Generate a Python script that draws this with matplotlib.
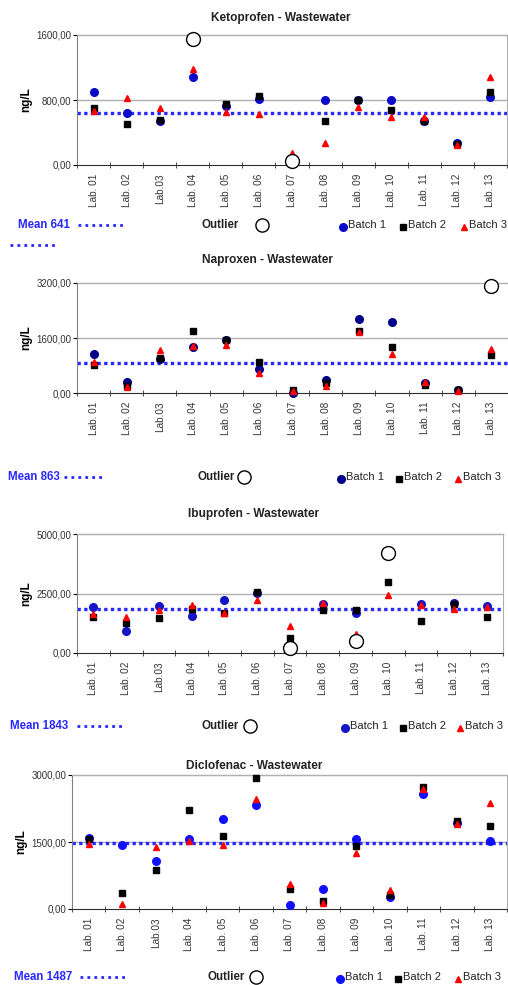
import numpy as np
import matplotlib
matplotlib.use("Agg")
import matplotlib.pyplot as plt
from matplotlib.lines import Line2D

plt.rcParams['font.family'] = ['Liberation Sans', 'DejaVu Sans']

W, H = 508, 985

labs = ['Lab. 01', 'Lab. 02', 'Lab.03', 'Lab. 04', 'Lab. 05', 'Lab. 06', 'Lab. 07',
        'Lab. 08', 'Lab. 09', 'Lab. 10', 'Lab. 11', 'Lab. 12', 'Lab. 13']
nan = np.nan

# Ketoprofen
keto_b1 = [894, 644, 545, 1078, 726, 816, nan, 795, 800, 804, 537, 267, 836]
keto_b2 = [705, 500, 553, nan, 754, 853, nan, 545, 800, 677, 545, 258, 898]
keto_b3 = [664, 828, 697, 1185, 648, 627, 144, 267, 718, 586, 586, 242, 1087]
keto_out = [nan, nan, nan, 1546, nan, nan, 49, nan, nan, nan, nan, nan, nan]
keto_mean = 641

# Naproxen
napr_b1 = [1147, 318, 993, 1330, 1542, 694, 10, 366, 2150, 2053, 289, 87, nan]
napr_b2 = [819, 212, 1022, 1803, 1542, 906, 77, 289, 1812, 1330, 222, 77, 1099]
napr_b3 = [896, 174, 1253, 1378, 1407, 569, 58, 193, 1783, 1147, 308, 58, 1292]
napr_out = [nan, nan, nan, nan, nan, nan, nan, nan, nan, nan, nan, nan, 3123]
napr_mean = 863

# Ibuprofen
ibu_b1 = [1915, 929, 1985, 1549, 2225, 2506, 225, 2042, 1690, nan, 2056, 2084, 1985]
ibu_b2 = [1521, 1267, 1478, 1830, 1661, 2548, 648, 1802, 1802, 2971, 1338, 2042, 1521]
ibu_b3 = [1633, 1492, 1802, 2000, 1661, 2225, 1126, 2084, 789, 2436, 2028, 1858, 1915]
ibu_out = [nan, nan, nan, nan, nan, nan, 211, nan, 507, 4196, nan, nan, nan]
ibu_mean = 1843

# Diclofenac
diclo_b1 = [1582, 1440, 1074, 1559, 2007, 2320, 97, 440, 1574, 269, 2581, 1932, 1529]
diclo_b2 = [1559, 358, 865, 2208, 1626, 2939, 440, 179, 1402, 306, 2723, 1969, 1850]
diclo_b3 = [1455, 112, 1388, 1529, 1425, 2469, 560, 142, 1246, 425, 2686, 1902, 2372]
diclo_out = [nan] * 13
diclo_mean = 1487

panels = [
    dict(title='Ketoprofen - Wastewater', b1=keto_b1, b2=keto_b2, b3=keto_b3, out=keto_out,
         mean=keto_mean, top=1600, box=(77, 35, 507, 165), c1='#0a0ac8', frame=True,
         leg_y=225, mean_x=(18, 78, 123), outl_x=(202, 262), bat_x=(343, 403, 464),
         title_xy=(281, 18)),
    dict(title='Naproxen - Wastewater', b1=napr_b1, b2=napr_b2, b3=napr_b3, out=napr_out,
         mean=napr_mean, top=3200, box=(77, 283, 508, 393), c1='#000088', frame=False,
         leg_y=477, mean_x=(8, 64, 105), outl_x=(198, 244), bat_x=(341, 399, 458),
         title_xy=(267, 260)),
    dict(title='Ibuprofen - Wastewater', b1=ibu_b1, b2=ibu_b2, b3=ibu_b3, out=ibu_out,
         mean=ibu_mean, top=5000, box=(77, 534, 503, 653), c1='#1414c8', frame=True,
         leg_y=726, mean_x=(10, 77, 122), outl_x=(202, 250), bat_x=(345, 403, 460),
         title_xy=(254, 514)),
    dict(title='Diclofenac - Wastewater', b1=diclo_b1, b2=diclo_b2, b3=diclo_b3, out=diclo_out,
         mean=diclo_mean, top=3000, box=(72, 775, 507, 909), c1='#1010ff', frame=True,
         leg_y=977, mean_x=(14, 80, 125), outl_x=(208, 256), bat_x=(340, 398, 458),
         title_xy=(254, 766)),
]

fig = plt.figure(figsize=(W / 100, H / 100), dpi=100)


def fx(px):
    return px / W


def fy(py):
    return 1 - py / H


def fmt(v):
    return f'{v:.2f}'.replace('.', ',')


x = np.arange(len(labs))
mean_blue = '#2828ff'

for p in panels:
    l, t, r, b = p['box']
    ax = fig.add_axes([fx(l), fy(b), fx(r) - fx(l), fy(t) - fy(b)])
    ax.set_xlim(-0.5, len(labs) - 0.5)
    ax.set_ylim(0, p['top'])

    ax.axhline(p['top'] / 2, color='#b0b0b0', lw=1, zorder=0)
    ax.axhline(p['top'], color='#b0b0b0', lw=1, zorder=0, clip_on=False)
    ax.axhline(p['mean'], color=mean_blue, lw=2.4, ls=(0, (1, 1)), zorder=1)

    ax.plot(x, p['b1'], 'o', color=p['c1'], ms=5.5, zorder=3, clip_on=False)
    ax.plot(x, p['b2'], 's', color='black', ms=4, zorder=4, clip_on=False)
    ax.plot(x, p['b3'], '^', color='#ff0000', ms=4.5, zorder=5, clip_on=False)
    ax.plot(x, p['out'], 'o', mfc='white', mec='black', mew=1, ms=10, zorder=6, clip_on=False)

    for s in ['top', 'right']:
        ax.spines[s].set_visible(p['frame'])
        ax.spines[s].set_color('#b0b0b0')
    ax.spines['left'].set_color('#808080')
    ax.spines['bottom'].set_color('#303030')

    ax.set_yticks([0, p['top'] / 2, p['top']])
    ax.set_yticklabels([fmt(v) for v in [0, p['top'] / 2, p['top']]], fontsize=7, color='#333333')
    ax.tick_params(axis='y', length=3, pad=1)
    ax.set_xticks(x)
    ax.set_xticklabels(labs, rotation=90, fontsize=7.2, color='#333333')
    ax.tick_params(axis='x', length=0, pad=6)
    ax.set_xticks(np.arange(len(labs) + 1) - 0.5, minor=True)
    ax.tick_params(axis='x', which='minor', length=4, direction='inout', color='#303030')
    ax.set_ylabel('ng/L', fontsize=8.5, fontweight='bold', labelpad=3)

    tx, ty = p['title_xy']
    fig.text(fx(tx), fy(ty), p['title'], ha='center', va='center',
             fontsize=8.6, fontweight='bold', color='#222222')

    # legend row
    ly = fy(p['leg_y'])
    mx, d0, d1 = p['mean_x']
    fig.text(fx(mx), ly, f"Mean {p['mean']}", ha='left', va='center', fontsize=8.3,
             fontweight='bold', color=mean_blue)
    fig.add_artist(Line2D([fx(d0), fx(d1)], [ly, ly], color=mean_blue, lw=2, ls=(0, (1, 1.5)),
                          transform=fig.transFigure))
    ox, oc = p['outl_x']
    fig.text(fx(ox), ly, 'Outlier', ha='left', va='center', fontsize=8.3, fontweight='bold',
             color='#222222')
    fig.add_artist(Line2D([fx(oc)], [ly], marker='o', mfc='white', mec='black', mew=1, ms=9.5,
                          transform=fig.transFigure))
    for bx, mk, col, ms, name in zip(p['bat_x'], ['o', 's', '^'], [p['c1'], 'black', '#ff0000'],
                                     [5.5, 4, 4.5], ['Batch 1', 'Batch 2', 'Batch 3']):
        fig.add_artist(Line2D([fx(bx)], [ly - 0.002], marker=mk, color=col, ms=ms, lw=0,
                              transform=fig.transFigure))
        fig.text(fx(bx + 5), ly, name, ha='left', va='center', fontsize=8, color='#222222')

# stray dotted line under the first chart
fig.add_artist(Line2D([fx(10), fx(55)], [fy(245), fy(245)], color=mean_blue, lw=2,
                      ls=(0, (1, 1.5)), transform=fig.transFigure))

fig.savefig('out.png', dpi=100)
